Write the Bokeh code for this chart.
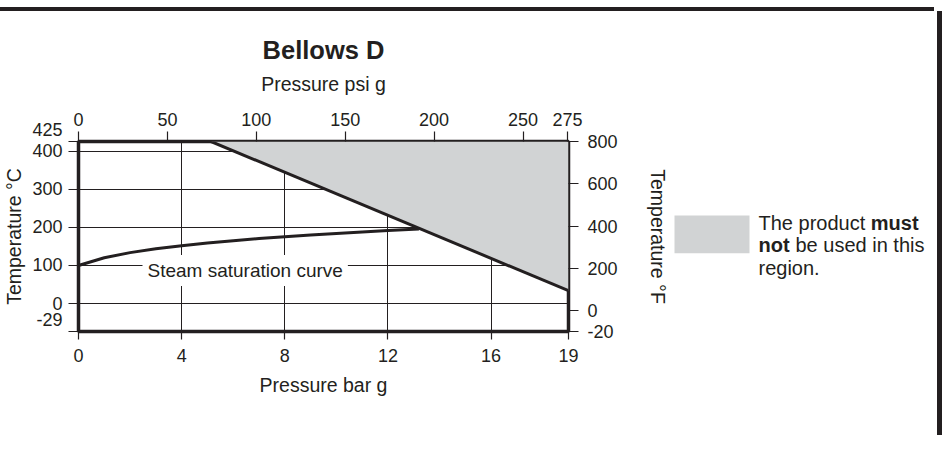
from bokeh.plotting import figure
from bokeh.models import Range1d, LinearAxis, FixedTicker, Label, Div
from bokeh.layouts import column, row
from bokeh.core.properties import value
from bokeh.embed import file_html
from bokeh.resources import INLINE

# ---------------- data ----------------
TITLE = "Bellows D"
# Steam saturation curve: pressure (bar g) vs temperature (°C)
SAT_BAR = [0, 1, 2, 3, 4, 5, 6, 7, 8, 9, 10, 11, 12, 13, 13.2]
SAT_TEMP = [100, 120.4, 133.7, 143.7, 151.9, 158.9, 165.0, 170.5, 175.4, 180.0, 184.1, 188.0, 191.7, 195.1, 195.8]
# Limit line of the region where the product must not be used
LIMIT_BAR = [5.14, 19.0]
LIMIT_TEMP = [425, 34]

BAR_TICKS = [0, 4, 8, 12, 16, 19]
PSI_TICKS = [0, 50, 100, 150, 200, 250, 275]
DEGC_TICKS = [-29, 0, 100, 200, 300, 400, 425]
DEGF_TICKS = [-20, 0, 200, 400, 600, 800]
GRID_BAR = [4, 8, 12, 16]
GRID_DEGC = [0, 100, 200, 300, 400]

X_MAX = 19
Y_MAX = 425
Y_FRAME_BOTTOM = -73      # the chart draws its minimum (-29 °C / -20 °F) at the frame bottom
PSI_PER_BAR = 14.5038

LEGEND_REGULAR = ["The product", "be used in this", "region."]
LEGEND_BOLD = ["must", "not"]

# ---------------- style ----------------
FONT = "Liberation Sans"
INK = "#231f20"
GREY = "#d1d3d4"

TOP_GAP = 7
BAR_H = 4
EDGE_W = 5
P_W, P_H = 663, 424
Q_W = 266


def c_to_f(c):
    return c * 9 / 5 + 32


p = figure(frame_width=490, frame_height=190,
           min_border_left=70, min_border_right=P_W - 70 - 490,
           min_border_top=130, min_border_bottom=P_H - 190 - 130,
           x_range=Range1d(0, X_MAX), y_range=Range1d(Y_FRAME_BOTTOM, Y_MAX),
           output_backend="svg", toolbar_location=None,
           background_fill_color="white", border_fill_color="white")
p.extra_x_ranges = {"psi": Range1d(0, X_MAX * PSI_PER_BAR)}
p.extra_y_ranges = {"degF": Range1d(c_to_f(Y_FRAME_BOTTOM), DEGF_TICKS[-1])}

p.outline_line_color = INK
p.outline_line_width = 3.5

p.title.text = TITLE
p.title.align = "center"
p.title.text_font = FONT
p.title.text_font_size = "25.5px"
p.title.text_font_style = "bold"
p.title.text_color = INK
p.title.standoff = 12


def style_axis(ax, tick_out, standoff, label_standoff):
    ax.axis_line_color = None
    ax.major_tick_line_color = INK
    ax.major_tick_line_width = 1.2
    ax.major_tick_in = 0
    ax.major_tick_out = tick_out
    ax.minor_tick_line_color = None
    ax.major_label_text_font = FONT
    ax.major_label_text_font_size = "18px"
    ax.major_label_text_color = INK
    ax.major_label_standoff = standoff
    ax.axis_label_text_font = FONT
    ax.axis_label_text_font_size = "19.5px"
    ax.axis_label_text_font_style = "normal"
    ax.axis_label_text_color = INK
    ax.axis_label_standoff = label_standoff


# bottom: bar g
xb = p.xaxis[0]
xb.ticker = FixedTicker(ticks=BAR_TICKS)
xb.axis_label = "Pressure bar g"
style_axis(xb, 8, 9, 9)

# left: °C
yl = p.yaxis[0]
c_ticks = [Y_FRAME_BOTTOM if t == DEGC_TICKS[0] else t for t in DEGC_TICKS]
yl.ticker = FixedTicker(ticks=c_ticks)
yl.major_label_overrides = {Y_FRAME_BOTTOM: str(DEGC_TICKS[0]) + "\n",
                            DEGC_TICKS[-1]: str(DEGC_TICKS[-1]) + "\n"}
yl.axis_label = "Temperature °C"
style_axis(yl, 10, 6, 4)

# top: psi g
xt = LinearAxis(x_range_name="psi", ticker=FixedTicker(ticks=PSI_TICKS), axis_label="Pressure psi g")
style_axis(xt, 10, 6, 15)
p.add_layout(xt, "above")

# right: °F
f_bottom = c_to_f(Y_FRAME_BOTTOM)
f_ticks = [f_bottom if t == DEGF_TICKS[0] else t for t in DEGF_TICKS]
yr = LinearAxis(y_range_name="degF", ticker=FixedTicker(ticks=f_ticks), axis_label="Temperature °F")
yr.major_label_overrides = {f_bottom: str(DEGF_TICKS[0])}
style_axis(yr, 10, 9, 26)
p.add_layout(yr, "right")

# grid
p.xgrid.ticker = FixedTicker(ticks=GRID_BAR)
p.ygrid.ticker = FixedTicker(ticks=GRID_DEGC)
for g in (p.xgrid, p.ygrid):
    g.grid_line_color = INK
    g.grid_line_width = 1

# forbidden region
region_x = [LIMIT_BAR[0], LIMIT_BAR[1], LIMIT_BAR[1]]
region_y = [LIMIT_TEMP[0], Y_MAX, LIMIT_TEMP[1]]
p.patch(region_x, region_y, fill_color=GREY, line_color=None)
p.line(LIMIT_BAR, LIMIT_TEMP, line_color=INK, line_width=3)

# steam saturation curve
p.line(SAT_BAR, SAT_TEMP, line_color=INK, line_width=3)
p.add_layout(Label(x=SAT_BAR[0], y=SAT_TEMP[0], x_offset=64, y_offset=-5,
                   text="Steam saturation curve", text_baseline="middle", text_align="left",
                   text_font=FONT, text_font_size="19px", text_color=INK,
                   background_fill_color="white", padding=5))

# ---------------- legend panel ----------------
# its frame is aligned by the row layout with the chart frame; ranges are set in page pixels
q_left = 8 + P_W
q = figure(width=Q_W, height=P_H, min_border=0,
           x_range=Range1d(q_left, q_left + Q_W), y_range=Range1d(330, 140),
           x_axis_location=None, y_axis_location=None,
           output_backend="svg", toolbar_location=None,
           background_fill_color="white", border_fill_color="white")
q.outline_line_color = None
q.xgrid.visible = False
q.ygrid.visible = False

# swatch of the forbidden region
q.quad(left=[674], right=[749], top=[214], bottom=[251.7], fill_color=GREY, line_color=None)
# legend text
q.text(x=[758, 795, 758], y=[221.7, 243.3, 266.7], text=LEGEND_REGULAR,
       text_font=value(FONT), text_font_size="20px", text_color=INK,
       text_baseline="alphabetic", text_align="left")
q.text(x=[870.3, 758], y=[221.7, 243.3], text=LEGEND_BOLD,
       text_font=value(FONT), text_font_size="20px", text_font_style="bold", text_color=INK,
       text_baseline="alphabetic", text_align="left")

spacer = Div(width=P_W + Q_W + EDGE_W, height=TOP_GAP, margin=0)
bar = Div(width=P_W + Q_W + EDGE_W, height=BAR_H, margin=0, styles={"background-color": INK})
edge = Div(width=EDGE_W, height=P_H, margin=0, styles={"background-color": INK})
layout = column(spacer, bar, row(p, q, edge, spacing=0), spacing=0)

open("out.html", "w").write(file_html(layout, INLINE))
